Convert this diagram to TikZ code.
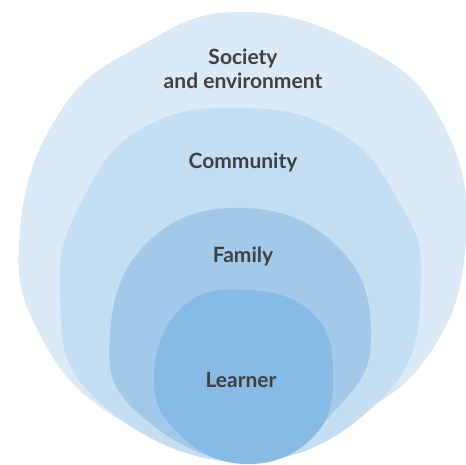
\documentclass[tikz,border=0pt]{standalone}
\usepackage{fontspec}
\setmainfont{Lato}
\usetikzlibrary{positioning}
\definecolor{societyblue}{HTML}{DBEAF7}
\definecolor{communityblue}{HTML}{C5DEF2}
\definecolor{familyblue}{HTML}{A3C9EA}
\definecolor{learnerblue}{HTML}{87BAE4}
\definecolor{labelgray}{HTML}{404042}
\tikzset{every picture/.style={
  x=1pt,y=-1pt                  % Pixel-like units, y running down.
  }
}

\begin{document}
\begin{tikzpicture}[
    blob/.style={
      draw=none,
      smooth cycle,
      tension=0.75
    },
    ring/.style={
      font=\bfseries\fontsize{21}{24}\selectfont,
      text=labelgray,
      align=center,
      inner sep=0pt
    }]

    \useasboundingbox (0,0) rectangle (466,464);

    % Outermost ring: society and environment.
    \fill[societyblue] plot[blob] coordinates {
      (240,12) (360,45) (440,118) (466,240) (425,360) (330,428)
      (245,461) (120,420) (40,335) (20,230) (60,112) (140,46)};

    % Community ring.
    \fill[communityblue] plot[blob] coordinates {
      (241,108) (335,130) (395,195) (421,280) (385,395) (245,462)
      (95,398) (60,290) (85,195) (145,127)};

    % Family ring.
    \fill[familyblue] plot[blob] coordinates {
      (243,208) (338,247) (371,332) (340,405) (250,462)
      (138,413) (110,335) (148,242)};

    % Innermost ring: the learner.
    \fill[learnerblue] plot[blob] coordinates {
      (247,290) (312,313) (333,372) (314,436) (245,464)
      (177,432) (154,372) (184,306)};

    % Label the rings.
    \node[ring] (society) at (243,69) {Society\\and environment};
    \node[ring] (community) at (243,162) {Community};
    \node[ring] (family) at (243,256) {Family};
    \node[ring] (learner) at (241,380) {Learner};
  \end{tikzpicture}
\end{document}
